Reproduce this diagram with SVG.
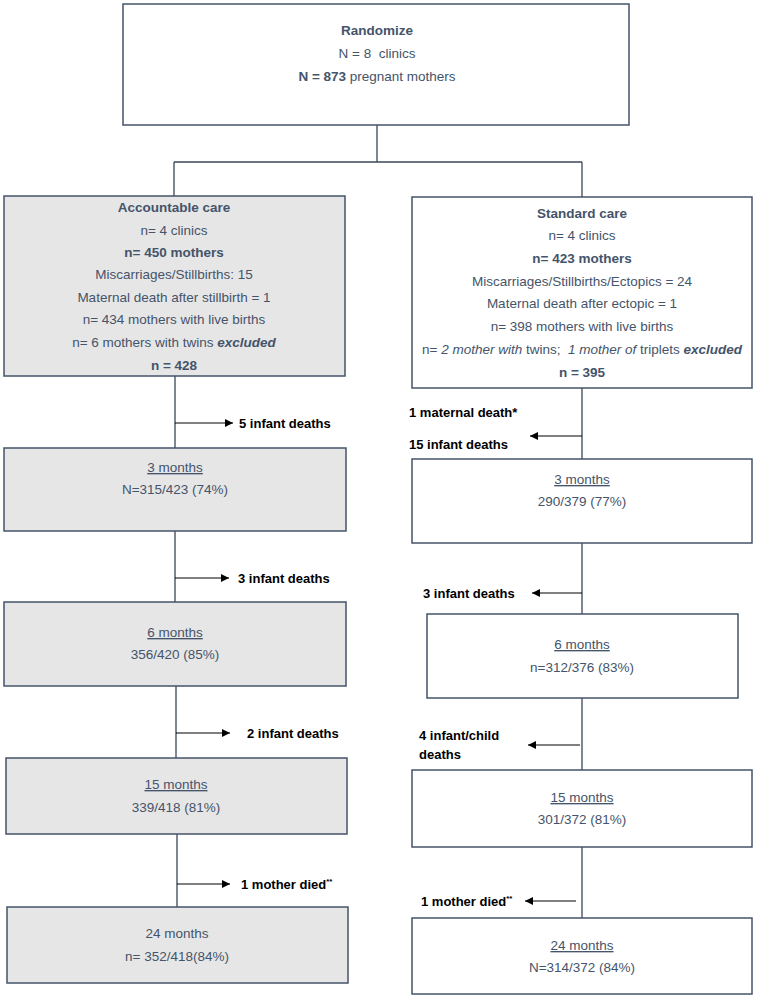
<svg xmlns="http://www.w3.org/2000/svg" width="757" height="999" viewBox="0 0 757 999">
<defs>
<marker id="ah" viewBox="0 0 10 10" refX="10" refY="5" markerWidth="9" markerHeight="8" markerUnits="userSpaceOnUse" orient="auto">
<path d="M0,0 L10,5 L0,10 z" fill="#000"/>
</marker>
</defs>
<style>
.box{stroke:#44546a;stroke-width:1.5}
.gray{fill:#e7e6e6}
.white{fill:#fff}
text{font-family:"Liberation Sans",Arial,sans-serif;font-size:13.5px;fill:#44546a}
.c{text-anchor:middle}
.b{font-weight:bold}
.lbl{font-weight:bold;fill:#000;font-size:13px}
.u{text-decoration:underline}
.ln{stroke:#3b4758;stroke-width:1.3;fill:none}
.ar{stroke:#000;stroke-width:1;fill:none;marker-end:url(#ah)}
</style>

<g id="connectors">
<path class="ln" d="M377,125 V162 M174,162 H582 M174,162 V197 M582,162 V197"/>
<path class="ln" d="M175,376 V448 M175,531 V602 M176,686 V758 M177,834 V907"/>
<path class="ln" d="M582,388 V459 M582,543 V614 M582,698 V770 M582,847 V918"/>
<path class="ar" d="M175,423 H233"/>
<path class="ar" d="M175,578 H229"/>
<path class="ar" d="M176,733 H230"/>
<path class="ar" d="M177,884 H230"/>
<path class="ar" d="M582,436 H530"/>
<path class="ar" d="M582,593 H532"/>
<path class="ar" d="M580,745 H528"/>
<path class="ar" d="M576,901 H525"/>
<text class="lbl" x="239" y="428">5 infant deaths</text>
<text class="lbl" x="238" y="583">3 infant deaths</text>
<text class="lbl" x="247" y="738">2 infant deaths</text>
<text class="lbl" x="241" y="889">1 mother died<tspan font-size="8" dy="-5">**</tspan></text>
<text class="lbl" x="409" y="417">1 maternal death*</text>
<text class="lbl" x="409" y="449">15 infant deaths</text>
<text class="lbl" x="423" y="598">3 infant deaths</text>
<text class="lbl" x="419" y="740">4 infant/child</text>
<text class="lbl" x="419" y="759">deaths</text>
<text class="lbl" x="421" y="906">1 mother died<tspan font-size="8" dy="-5">**</tspan></text>
</g>

<g id="randomize">
<rect class="box white" x="123" y="4" width="506" height="121"/>
<text class="c b" x="377" y="35">Randomize</text>
<text class="c" x="377" y="58">N = 8&#160; clinics</text>
<text class="c" x="377" y="81"><tspan class="b">N = 873</tspan> pregnant mothers</text>
</g>

<g id="accountable">
<rect class="box gray" x="4" y="196" width="341" height="180"/>
<text class="c b" x="174" y="212">Accountable care</text>
<text class="c" x="174" y="235">n= 4 clinics</text>
<text class="c b" x="174" y="257">n= 450 mothers</text>
<text class="c" x="174" y="279">Miscarriages/Stillbirths: 15</text>
<text class="c" x="174" y="302">Maternal death after stillbirth = 1</text>
<text class="c" x="174" y="324">n= 434 mothers with live births</text>
<text class="c" x="174" y="347">n= 6 mothers with twins <tspan class="b" font-style="italic">excluded</tspan></text>
<text class="c b" x="174" y="370">n = 428</text>
</g>

<g id="standard">
<rect class="box white" x="412" y="197" width="340" height="191"/>
<text class="c b" x="582" y="218">Standard care</text>
<text class="c" x="582" y="240">n= 4 clinics</text>
<text class="c b" x="582" y="263">n= 423 mothers</text>
<text class="c" x="582" y="286">Miscarriages/Stillbirths/Ectopics = 24</text>
<text class="c" x="582" y="308">Maternal death after ectopic = 1</text>
<text class="c" x="582" y="331">n= 398 mothers with live births</text>
<text class="c" x="582" y="354" font-size="13">n= <tspan font-style="italic">2 mother with</tspan> twins;&#160; <tspan font-style="italic">1 mother of</tspan> triplets <tspan class="b" font-style="italic">excluded</tspan></text>
<text class="c b" x="582" y="377">n = 395</text>
</g>

<g id="a3">
<rect class="box gray" x="4" y="448" width="342" height="83"/>
<text class="c u" x="175" y="472">3 months</text>
<text class="c" x="175" y="494">N=315/423 (74%)</text>
</g>
<g id="a6">
<rect class="box gray" x="4" y="602" width="342" height="84"/>
<text class="c u" x="175" y="637">6 months</text>
<text class="c" x="175" y="659">356/420 (85%)</text>
</g>
<g id="a15">
<rect class="box gray" x="6" y="758" width="341" height="76"/>
<text class="c u" x="176" y="789">15 months</text>
<text class="c" x="176" y="812">339/418 (81%)</text>
</g>
<g id="a24">
<rect class="box gray" x="7" y="907" width="341" height="76"/>
<text class="c" x="177" y="938">24 months</text>
<text class="c" x="177" y="961">n= 352/418(84%)</text>
</g>

<g id="s3">
<rect class="box white" x="412" y="459" width="340" height="84"/>
<text class="c u" x="582" y="484">3 months</text>
<text class="c" x="582" y="506">290/379 (77%)</text>
</g>
<g id="s6">
<rect class="box white" x="427" y="614" width="311" height="84"/>
<text class="c u" x="582" y="649">6 months</text>
<text class="c" x="582" y="672">n=312/376 (83%)</text>
</g>
<g id="s15">
<rect class="box white" x="412" y="770" width="340" height="77"/>
<text class="c u" x="582" y="802">15 months</text>
<text class="c" x="582" y="824">301/372 (81%)</text>
</g>
<g id="s24">
<rect class="box white" x="412" y="918" width="340" height="76"/>
<text class="c u" x="582" y="950">24 months</text>
<text class="c" x="582" y="972">N=314/372 (84%)</text>
</g>
</svg>
